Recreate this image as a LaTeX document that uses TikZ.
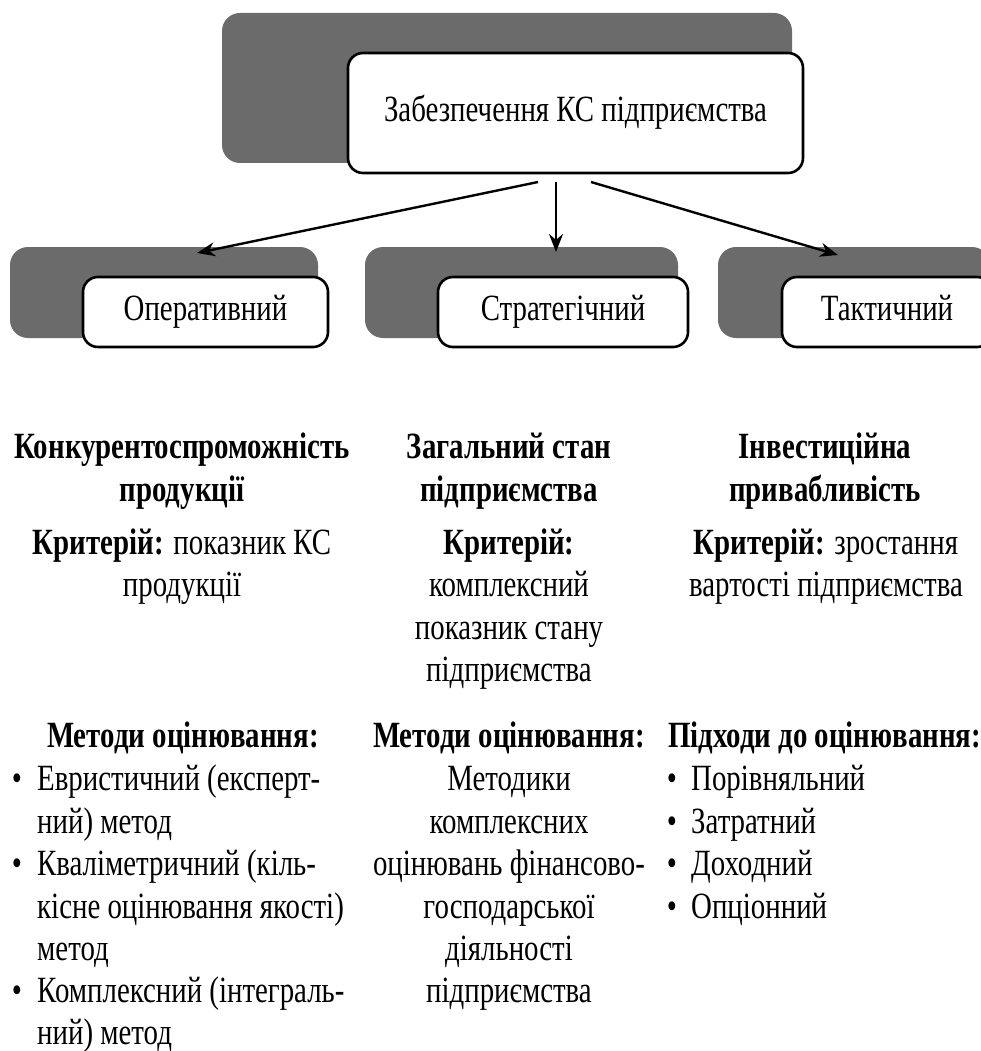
\documentclass[tikz,border=0pt]{standalone}
\usepackage{fontspec}
\setmainfont{Liberation Serif}[FakeStretch=0.78]
\usetikzlibrary{arrows.meta}
\definecolor{shade}{HTML}{6B6B6B}
\tikzset{
  darkbox/.style={fill=shade,draw=none,rounded corners=18pt},
  whitebox/.style={draw=black,fill=white,line width=2.6pt,rounded corners=15pt,inner sep=0pt,text height=24pt,text depth=7pt,font=\fontsize{37}{42.5}\selectfont},
  conn/.style={line width=2.4pt,-{Stealth[length=18pt,width=14pt]}},
  txt/.style={inner sep=0pt,font=\fontsize{37}{42.5}\selectfont},
}
\newcommand\tl[5]{\node[txt,anchor=#1] (#2) at (#3,#4) {#5};}
\begin{document}
\begin{tikzpicture}[x=1pt,y=-1pt]
\useasboundingbox (0,0) rectangle (980,1051);
% top
\node[darkbox,minimum width=570pt,minimum height=150pt] (topdark) at (507,88) {};
\node[whitebox,minimum width=455pt,minimum height=120pt] (top) at (575.5,113) {Забезпечення КС підприємства};
% row 2
\node[darkbox,minimum width=308pt,minimum height=91pt] (d1) at (164,292.5) {};
\node[darkbox,minimum width=313pt,minimum height=91pt] (d2) at (521.5,292.5) {};
\node[darkbox,minimum width=272pt,minimum height=91pt] (d3) at (854,292.5) {};
\node[whitebox,minimum width=245pt,minimum height=70pt] (w1) at (205.5,312) {Оперативний};
\node[whitebox,minimum width=250pt,minimum height=70pt] (w2) at (563,312) {Стратегічний};
\node[whitebox,minimum width=210pt,minimum height=70pt] (w3) at (887,312) {Тактичний};
% arrows
\coordinate (s1) at (538,182);
\coordinate (s2) at (556,182);
\coordinate (s3) at (591,182);
\coordinate (e1) at (197,253);
\coordinate (e2) at (556,252);
\coordinate (e3) at (838,255);
\draw[conn] (s1) -- (e1);
\draw[conn] (s2) -- (e2);
\draw[conn] (s3) -- (e3);
% column 1
\tl{base}{c1a}{182}{458}{\bfseries Конкурентоспроможність}
\tl{base}{c1b}{182}{501}{\bfseries продукції}
\tl{base}{c1c}{182}{554}{\textbf{Критерій:} показник КС}
\tl{base}{c1d}{182}{596.5}{продукції}
\tl{base}{c1e}{183}{747}{\bfseries Методи оцінювання:}
\tl{base}{c1f}{17}{790}{•}
\tl{base west}{c1g}{37}{790}{Евристичний (експерт-}
\tl{base west}{c1h}{37}{833}{ний) метод}
\tl{base}{c1i}{17}{875}{•}
\tl{base west}{c1j}{37}{875}{Кваліметричний (кіль-}
\tl{base west}{c1k}{37}{918}{кісне оцінювання якості)}
\tl{base west}{c1l}{37}{960}{метод}
\tl{base}{c1m}{17}{1002}{•}
\tl{base west}{c1n}{37}{1002}{Комплексний (інтеграль-}
\tl{base west}{c1o}{37}{1044}{ний) метод}
% column 2
\tl{base}{c2a}{509}{458}{\bfseries Загальний стан}
\tl{base}{c2b}{509}{501}{\bfseries підприємства}
\tl{base}{c2c}{509}{554}{\bfseries Критерій:}
\tl{base}{c2d}{509}{596.5}{комплексний}
\tl{base}{c2e}{509}{639}{показник стану}
\tl{base}{c2f}{509}{681.5}{підприємства}
\tl{base}{c2g}{509}{747}{\bfseries Методи оцінювання:}
\tl{base}{c2h}{509}{790}{Методики}
\tl{base}{c2i}{509}{833}{комплексних}
\tl{base}{c2j}{509}{875}{оцінювань фінансово-}
\tl{base}{c2k}{509}{918}{господарської}
\tl{base}{c2l}{509}{960}{діяльності}
\tl{base}{c2m}{509}{1002}{підприємства}
% column 3
\tl{base}{c3a}{825}{458}{\bfseries Інвестиційна}
\tl{base}{c3b}{825}{501}{\bfseries привабливість}
\tl{base}{c3c}{826}{554}{\textbf{Критерій:} зростання}
\tl{base}{c3d}{826}{596.5}{вартості підприємства}
\tl{base west}{c3e}{668}{747}{\bfseries Підходи до оцінювання:}
\tl{base}{c3f}{672}{790}{•}
\tl{base west}{c3g}{691}{790}{Порівняльний}
\tl{base}{c3h}{672}{833}{•}
\tl{base west}{c3i}{691}{833}{Затратний}
\tl{base}{c3j}{672}{875}{•}
\tl{base west}{c3k}{691}{875}{Доходний}
\tl{base}{c3l}{672}{918}{•}
\tl{base west}{c3m}{691}{918}{Опціонний}
\end{tikzpicture}
\end{document}
